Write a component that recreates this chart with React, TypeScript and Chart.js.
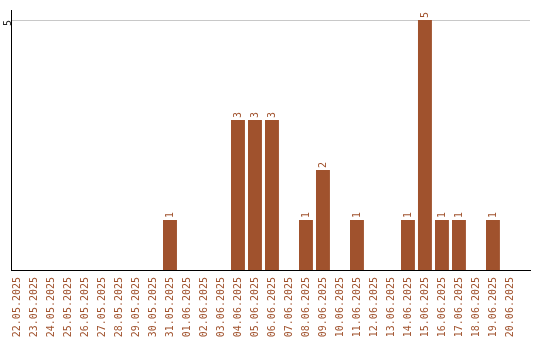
import React, { useEffect, useRef } from "react";
import { Chart, registerables } from "chart.js";

Chart.register(...registerables);

const dates = [
  "22.05.2025", "23.05.2025", "24.05.2025", "25.05.2025", "26.05.2025",
  "27.05.2025", "28.05.2025", "29.05.2025", "30.05.2025", "31.05.2025",
  "01.06.2025", "02.06.2025", "03.06.2025", "04.06.2025", "05.06.2025",
  "06.06.2025", "07.06.2025", "08.06.2025", "09.06.2025", "10.06.2025",
  "11.06.2025", "12.06.2025", "13.06.2025", "14.06.2025", "15.06.2025",
  "16.06.2025", "17.06.2025", "18.06.2025", "19.06.2025", "20.06.2025",
];
const counts = [
  0, 0, 0, 0, 0, 0, 0, 0, 0, 1,
  0, 0, 0, 3, 3, 3, 0, 1, 2, 0,
  1, 0, 0, 1, 5, 1, 1, 0, 1, 0,
];
const yTicks = [5];

const BAR = "#A0522D";
const FONT = "DejaVu Sans Mono";

const barLabels = {
  id: "barLabels",
  afterDatasetsDraw(chart: any) {
    const ctx = chart.ctx;
    const meta = chart.getDatasetMeta(0);
    ctx.save();
    ctx.fillStyle = BAR;
    ctx.font = `10px "${FONT}"`;
    ctx.textAlign = "left";
    ctx.textBaseline = "middle";
    meta.data.forEach((el: any, i: number) => {
      const v = counts[i];
      if (!v) return;
      ctx.save();
      ctx.translate(el.x, el.y - 2);
      ctx.rotate(-Math.PI / 2);
      ctx.fillText(String(v), 0, 0);
      ctx.restore();
    });
    ctx.restore();
  },
};

export default function App() {
  const ref = useRef<HTMLCanvasElement>(null);
  useEffect(() => {
    document.body.style.margin = "0";
    const chart = new Chart(ref.current!, {
      type: "bar",
      data: {
        datasets: [
          {
            data: counts.map((v, i) => ({ x: i, y: v === 0 ? null : v })) as any,
            backgroundColor: BAR,
            borderWidth: 0,
            barPercentage: 0.82,
            categoryPercentage: 1,
          },
        ],
      },
      options: {
        responsive: false,
        animation: false,
        events: [],
        layout: { padding: { top: 10, right: 10, left: 0, bottom: 0 } },
        plugins: { legend: { display: false }, tooltip: { enabled: false } },
        scales: {
          x: {
            type: "linear",
            offset: false,
            min: -0.353,
            max: 30.18,
            afterBuildTicks: (s: any) => {
              s.ticks = dates.map((_, i) => ({ value: i }));
            },
            afterFit: (s: any) => {
              s.height = 70;
            },
            grid: { display: false, drawTicks: false, offset: false },
            border: { color: "#000", width: 1 },
            ticks: {
              autoSkip: false,
              minRotation: 90,
              maxRotation: 90,
              padding: 7,
              color: BAR,
              font: { family: FONT, size: 10 },
              callback: (v: any) => dates[v as number] ?? "",
            },
          },
          y: {
            min: 0,
            max: 5.2,
            afterBuildTicks: (s: any) => {
              s.ticks = yTicks.map((v) => ({ value: v }));
            },
            afterFit: (s: any) => {
              s.width = 11;
            },
            grid: { color: "#c8c8c8", drawTicks: false },
            border: { color: "#000", width: 1 },
            ticks: {
              minRotation: 90,
              maxRotation: 90,
              padding: 3,
              color: "#222",
              font: { family: FONT, size: 10 },
            },
          },
        },
      },
      plugins: [barLabels],
    });
    return () => chart.destroy();
  }, []);
  return <canvas ref={ref} width={540} height={340} />;
}
